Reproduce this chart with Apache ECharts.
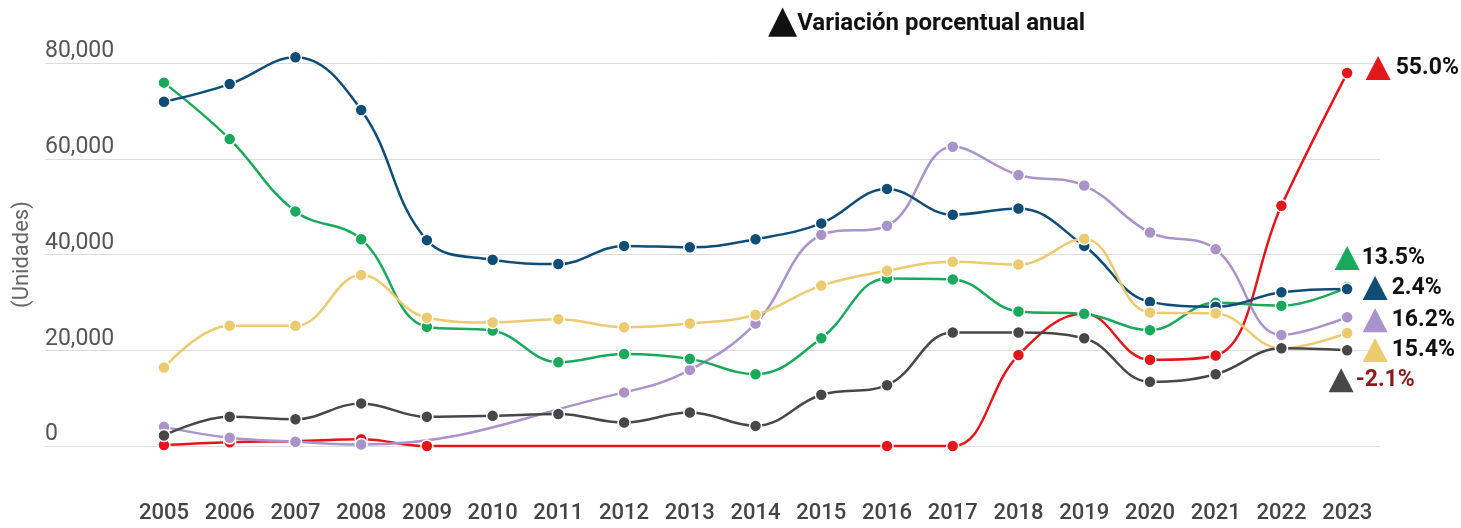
<!DOCTYPE html>
<html>
<head>
<meta charset="utf-8">
<script src="https://cdn.jsdelivr.net/npm/echarts@6/dist/echarts.min.js"></script>
<style>
  html, body { margin: 0; padding: 0; background: #fff; }
  #chart { width: 1461px; height: 528px; }
</style>
</head>
<body>
<div id="chart"></div>
<script>
// Years on the horizontal axis
const years = [2005, 2006, 2007, 2008, 2009, 2010, 2011, 2012, 2013, 2014,
               2015, 2016, 2017, 2018, 2019, 2020, 2021, 2022, 2023];

// Units per year for each series (null = no record that year)
const redValues    = [200, 800, 1000, 1400, 0, null, null, null, null, null, null, 0, 0, 19000, 27700, 18000, 18900, 50200, 77900];
const purpleValues = [4000, 1700, 900, 300, null, null, null, 11200, 15900, 25600, 44100, 46000, 62500, 56600, 54400, 44600, 41100, 23200, 26900];
const greenValues  = [75900, 64100, 49000, 43200, 24900, 24100, 17500, 19200, 18200, 15000, 22500, 35000, 34800, 28100, 27600, 24200, 29900, 29300, 33200];
const blueValues   = [71900, 75600, 81200, 70200, 43000, 38900, 38000, 41800, 41500, 43200, 46500, 53700, 48300, 49600, 41800, 30100, 29100, 32100, 32800];
const yellowValues = [16400, 25100, 25100, 35700, 26800, 25800, 26500, 24800, 25600, 27400, 33500, 36600, 38500, 37900, 43300, 27900, 27700, 20400, 23600];
const grayValues   = [2200, 6100, 5600, 8900, 6100, 6300, 6700, 4900, 7000, 4200, 10700, 12700, 23700, 23700, 22500, 13400, 15000, 20400, 20000];

// Annual percentage change of the last year, per series
const redChange = '55.0%';
const purpleChange = '16.2%';
const greenChange = '13.5%';
const blueChange = '2.4%';
const yellowChange = '15.4%';
const grayChange = '-2.1%';

// Y axis ticks
const yTicks = [0, 20000, 40000, 60000, 80000];

const chart = echarts.init(document.getElementById('chart'), null, { renderer: 'canvas' });

function pairs(values) {
  return years.map((y, i) => [y, values[i]]);
}

function makeSeries(name, values, color, change, offset, labelColor, labelDist) {
  const last = values[values.length - 1];
  return {
    name: name,
    type: 'line',
    data: pairs(values),
    smooth: 0.4,
    connectNulls: true,
    clip: false,
    symbol: 'circle',
    symbolSize: 12,
    showAllSymbol: true,
    lineStyle: { color: color, width: 2.5 },
    itemStyle: { color: color, borderColor: '#fff', borderWidth: 1.5 },
    emphasis: { disabled: true },
    markPoint: {
      silent: true,
      symbol: 'triangle',
      symbolSize: [25, 24],
      symbolOffset: offset,
      itemStyle: { color: color },
      label: {
        show: true,
        position: 'right',
        distance: labelDist,
        formatter: change,
        fontFamily: 'Roboto',
        fontSize: 23,
        fontWeight: 'bold',
        color: labelColor
      },
      data: [{ coord: [years[years.length - 1], last] }]
    }
  };
}

const option = {
  animation: false,
  backgroundColor: '#fff',
  title: {
    text: '{t|▲}{s|Variación porcentual anual}',
    left: 763,
    top: 2,
    textStyle: {
      rich: {
        t: { fontFamily: 'DejaVu Sans', fontSize: 38, lineHeight: 30, color: '#111', verticalAlign: 'middle' },
        s: { fontFamily: 'Roboto', fontSize: 24, fontWeight: 'bold', lineHeight: 30, color: '#111', verticalAlign: 'middle', padding: [3, 0, 0, 0] }
      }
    }
  },
  grid: { left: 45, right: 81, top: 63, bottom: 82 },
  xAxis: {
    type: 'value',
    min: 2003.19,
    max: 2023.5,
    axisLine: { show: false },
    axisTick: { show: false },
    splitLine: { show: false },
    axisLabel: {
      customValues: years,
      formatter: v => String(v),
      fontFamily: 'Roboto',
      fontSize: 22,
      fontWeight: 500,
      color: '#444',
      margin: 56
    }
  },
  yAxis: {
    type: 'value',
    min: 0,
    max: 80000,
    interval: 20000,
    name: '(Unidades)',
    nameLocation: 'middle',
    nameRotate: 90,
    nameGap: 12,
    nameTextStyle: { fontFamily: 'Roboto', fontSize: 22, color: '#666' },
    axisLine: { show: false },
    axisTick: { show: false },
    axisLabel: {
      inside: true,
      margin: 0,
      verticalAlign: 'bottom',
      customValues: yTicks,
      formatter: v => v.toLocaleString('en-US'),
      fontFamily: 'Roboto',
      fontSize: 23,
      color: '#555'
    },
    splitLine: { lineStyle: { color: '#dcdcdc', width: 1 } }
  },
  series: [
    makeSeries('Rojo', redValues, '#e3161c', redChange, [31, -5], '#111', 5),
    makeSeries('Morado', purpleValues, '#a993ca', purpleChange, [28, 3], '#111', 4),
    makeSeries('Verde', greenValues, '#19a95b', greenChange, [0, -29], '#111', 2),
    makeSeries('Azul', blueValues, '#0f4d77', blueChange, [28, -1], '#111', 4),
    makeSeries('Amarillo', yellowValues, '#ecca70', yellowChange, [28, 17], '#111', 4),
    makeSeries('Gris', grayValues, '#474747', grayChange, [-6, 30], '#8b1a1a', 2)
  ]
};

chart.setOption(option);
</script>
</body>
</html>
